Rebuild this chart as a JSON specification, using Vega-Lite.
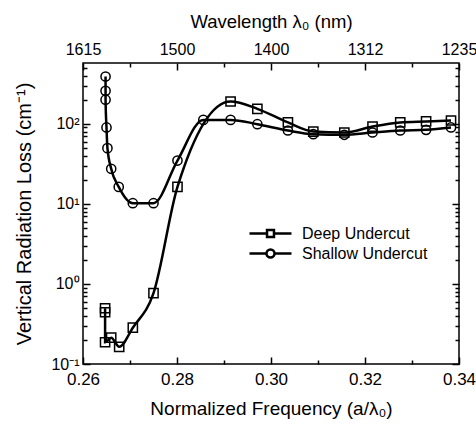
{
  "$schema": "https://vega.github.io/schema/vega-lite/v6.json",
  "autosize": {"type": "none"},
  "padding": {"left": 83, "top": 63, "right": 17, "bottom": 65},
  "width": 376,
  "height": 301,
  "config": {
    "font": "Liberation Sans",
    "view": {"stroke": "black", "strokeWidth": 1.5}
  },
  "data": {
    "values": [
      {"series": "Shallow Undercut", "i": 1, "x": 0.2648, "y": 390},
      {"series": "Shallow Undercut", "i": 2, "x": 0.2648, "y": 258},
      {"series": "Shallow Undercut", "i": 3, "x": 0.2648, "y": 200},
      {"series": "Shallow Undercut", "i": 4, "x": 0.2650, "y": 90},
      {"series": "Shallow Undercut", "i": 5, "x": 0.2652, "y": 49.7},
      {"series": "Shallow Undercut", "i": 6, "x": 0.2660, "y": 27.4},
      {"series": "Shallow Undercut", "i": 7, "x": 0.2676, "y": 16.3},
      {"series": "Shallow Undercut", "i": 8, "x": 0.2706, "y": 10.2},
      {"series": "Shallow Undercut", "i": 9, "x": 0.2750, "y": 10.2},
      {"series": "Shallow Undercut", "i": 10, "x": 0.2801, "y": 34.8},
      {"series": "Shallow Undercut", "i": 11, "x": 0.2856, "y": 112},
      {"series": "Shallow Undercut", "i": 12, "x": 0.2914, "y": 112},
      {"series": "Shallow Undercut", "i": 13, "x": 0.2971, "y": 99},
      {"series": "Shallow Undercut", "i": 14, "x": 0.3036, "y": 82.5},
      {"series": "Shallow Undercut", "i": 15, "x": 0.3090, "y": 74.3},
      {"series": "Shallow Undercut", "i": 16, "x": 0.3156, "y": 72.9},
      {"series": "Shallow Undercut", "i": 17, "x": 0.3216, "y": 77.9},
      {"series": "Shallow Undercut", "i": 18, "x": 0.3275, "y": 82.5},
      {"series": "Shallow Undercut", "i": 19, "x": 0.3330, "y": 84.1},
      {"series": "Shallow Undercut", "i": 20, "x": 0.3383, "y": 90},
      {"series": "Deep Undercut", "i": 1, "x": 0.2647, "y": 0.497},
      {"series": "Deep Undercut", "i": 2, "x": 0.2647, "y": 0.443},
      {"series": "Deep Undercut", "i": 3, "x": 0.2647, "y": 0.187},
      {"series": "Deep Undercut", "i": 4, "x": 0.2660, "y": 0.213},
      {"series": "Deep Undercut", "i": 5, "x": 0.2677, "y": 0.164},
      {"series": "Deep Undercut", "i": 6, "x": 0.2706, "y": 0.284},
      {"series": "Deep Undercut", "i": 7, "x": 0.2750, "y": 0.766},
      {"series": "Deep Undercut", "i": 8, "x": 0.2801, "y": 16.3},
      {"series": "Deep Undercut", "i": 9, "x": 0.2914, "y": 190},
      {"series": "Deep Undercut", "i": 10, "x": 0.2971, "y": 154},
      {"series": "Deep Undercut", "i": 11, "x": 0.3036, "y": 104},
      {"series": "Deep Undercut", "i": 12, "x": 0.3090, "y": 80.1},
      {"series": "Deep Undercut", "i": 13, "x": 0.3156, "y": 77.9},
      {"series": "Deep Undercut", "i": 14, "x": 0.3216, "y": 92.5},
      {"series": "Deep Undercut", "i": 15, "x": 0.3275, "y": 104},
      {"series": "Deep Undercut", "i": 16, "x": 0.3330, "y": 107},
      {"series": "Deep Undercut", "i": 17, "x": 0.3383, "y": 110}
    ]
  },
  "resolve": {
    "scale": {"shape": "independent"},
    "axis": {"x": "independent", "y": "independent"},
    "legend": {"shape": "independent"}
  },
  "layer": [
    {
      "mark": {"type": "line", "interpolate": "monotone", "color": "black", "strokeWidth": 2.5, "clip": true},
      "encoding": {
        "x": {
          "field": "x", "type": "quantitative",
          "scale": {"domain": [0.26, 0.34], "nice": false, "zero": false},
          "axis": {
            "orient": "bottom", "title": "Normalized Frequency (a/λ₀)", "titleFontSize": 19,
            "titleFontWeight": "normal", "titleColor": "black", "titlePadding": 12,
            "values": [0.26, 0.28, 0.30, 0.32, 0.34], "format": ".2f",
            "grid": false, "domain": false, "ticks": true, "offset": -7, "tickSize": 7, "tickColor": "black", "tickWidth": 1.5,
            "labelPadding": 7, "labelFontSize": 17, "labelColor": "black", "labelFlush": false, "labelOverlap": false
          }
        },
        "y": {
          "field": "y", "type": "quantitative",
          "scale": {"type": "log", "domain": [0.1, 575], "nice": false},
          "axis": {
            "orient": "left", "title": "Vertical Radiation Loss (cm⁻¹)", "titleFontSize": 20,
            "titleFontWeight": "normal", "titleColor": "black", "titlePadding": 16,
            "values": [0.1, 1, 10, 100],
            "labelExpr": "datum.value < 0.15 ? '10⁻¹' : datum.value < 1.5 ? '10⁰' : datum.value < 15 ? '10¹' : '10²'",
            "grid": false, "domain": false, "ticks": true, "offset": -7, "tickSize": 7, "tickColor": "black", "tickWidth": 1.5,
            "labelPadding": 4, "labelFontSize": 16, "labelColor": "black", "labelFlush": false, "labelOverlap": false
          }
        },
        "detail": {"field": "series"},
        "order": {"field": "i", "type": "quantitative"}
      }
    },
    {
      "mark": {"type": "point", "filled": false, "color": "black", "size": 85, "strokeWidth": 1.5, "opacity": 1},
      "encoding": {
        "x": {
          "field": "x", "type": "quantitative",
          "axis": {
            "orient": "top", "title": "Wavelength λ₀ (nm)", "titleFontSize": 18.5,
            "titleFontWeight": "normal", "titleColor": "black", "titlePadding": 10,
            "values": [0.26, 0.28, 0.30, 0.32, 0.34],
            "labelExpr": "abs(datum.value-0.26)<0.001 ? '1615' : abs(datum.value-0.28)<0.001 ? '1500' : abs(datum.value-0.30)<0.001 ? '1400' : abs(datum.value-0.32)<0.001 ? '1312' : '1235'",
            "grid": false, "domain": false, "ticks": true, "offset": -7, "tickSize": 7, "tickColor": "black", "tickWidth": 1.5,
            "labelPadding": 6, "labelFontSize": 16, "labelColor": "black", "labelFlush": false, "labelOverlap": false
          }
        },
        "y": {
          "field": "y", "type": "quantitative",
          "axis": {
            "orient": "right", "title": null, "values": [0.1, 1, 10, 100], "labels": false,
            "grid": false, "domain": false, "ticks": true, "offset": -7, "tickSize": 7, "tickColor": "black", "tickWidth": 1.5
          }
        },
        "shape": {
          "field": "series", "type": "nominal",
          "scale": {"domain": ["Deep Undercut", "Shallow Undercut"], "range": ["square", "circle"]},
          "legend": null
        }
      }
    },
    {
      "mark": {"type": "point", "filled": false, "color": "black", "opacity": 0},
      "encoding": {
        "x": {
          "field": "x", "type": "quantitative",
          "axis": {"orient": "bottom", "title": null, "labels": false, "grid": false, "domain": false,
                   "values": [0.27, 0.29, 0.31, 0.33], "ticks": true, "offset": -4, "tickSize": 4, "tickColor": "black", "tickWidth": 1.5}
        },
        "y": {
          "field": "y", "type": "quantitative",
          "axis": {"orient": "left", "title": null, "labels": false, "grid": false, "domain": false,
                   "values": [0.2, 0.3, 0.4, 0.5, 0.6, 0.7, 0.8, 0.9, 2, 3, 4, 5, 6, 7, 8, 9, 20, 30, 40, 50, 60, 70, 80, 90, 200, 300, 400, 500],
                   "ticks": true, "offset": -4, "tickSize": 4, "tickColor": "black", "tickWidth": 1.5}
        },
        "shape": {
          "field": "series", "type": "nominal",
          "scale": {
            "domain": ["Deep Undercut", "Shallow Undercut"],
            "range": [
              "M-4.25,0H-2.06M-1.19,0H1M-2.06,-0.44H-1.19V0.44H-2.06Z",
              "M-4.25,0H-2.125M-1.125,0H1M-1.125,0A0.5,0.5,0,1,1,-2.125,0A0.5,0.5,0,1,1,-1.125,0Z"
            ]
          },
          "legend": {
            "title": null, "orient": "none", "legendX": 191, "legendY": 161, "padding": 0,
            "symbolSize": 256, "symbolStrokeWidth": 2.5, "symbolStrokeColor": "black",
            "symbolFillColor": "transparent", "symbolOpacity": 1,
            "labelFontSize": 16, "labelColor": "black", "labelOffset": 9, "rowPadding": 1
          }
        }
      }
    },
    {
      "mark": {"type": "point", "filled": false, "color": "black", "opacity": 0},
      "encoding": {
        "x": {
          "field": "x", "type": "quantitative",
          "axis": {"orient": "top", "title": null, "labels": false, "grid": false, "domain": false,
                   "values": [0.27, 0.29, 0.31, 0.33], "ticks": true, "offset": -4, "tickSize": 4, "tickColor": "black", "tickWidth": 1.5}
        },
        "y": {
          "field": "y", "type": "quantitative",
          "axis": {"orient": "right", "title": null, "labels": false, "grid": false, "domain": false,
                   "values": [0.2, 0.3, 0.4, 0.5, 0.6, 0.7, 0.8, 0.9, 2, 3, 4, 5, 6, 7, 8, 9, 20, 30, 40, 50, 60, 70, 80, 90, 200, 300, 400, 500],
                   "ticks": true, "offset": -4, "tickSize": 4, "tickColor": "black", "tickWidth": 1.5}
        }
      }
    }
  ]
}
